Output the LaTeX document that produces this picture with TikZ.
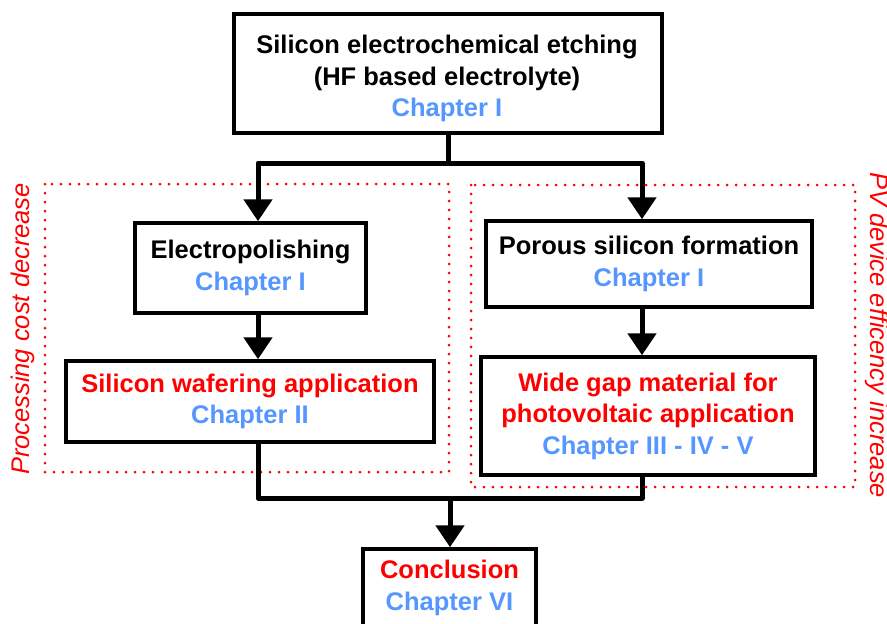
\documentclass[tikz,border=0pt]{standalone}
\usepackage{fontspec}
\setmainfont{Liberation Sans}
\usetikzlibrary{arrows.meta}
\definecolor{chblue}{RGB}{85,150,255}
\definecolor{redx}{RGB}{255,0,0}
\begin{document}
\begin{tikzpicture}[x=1pt,y=-1pt,
  box/.style={draw=black,line width=3.5pt,fill=white,align=center,inner sep=0pt,
    font=\fontsize{25.5}{31.5}\selectfont\bfseries},
  boxtext/.style={align=center,inner sep=0pt,font=\fontsize{25.5}{31.5}\selectfont\bfseries},
  conn/.style={line width=5pt,line join=round},
  tip/.style={-{Triangle[width=28pt,length=22pt]}},
  zone/.style={draw=redx,line width=3pt,dash pattern=on 0pt off 9pt,line cap=round},
  side/.style={text=redx,font=\fontsize{25.5}{31.5}\selectfont\itshape,inner sep=0pt}]
\useasboundingbox (0,0) rectangle (887,624);
\clip (0,0) rectangle (887,624);
% dotted zones
\draw[zone] (45,184) rectangle (449,472);
\draw[zone] (471,185) rectangle (855,487);
% boxes
\node[box,minimum width=428pt,minimum height=119pt] (top) at (448,73.5) {};
\node[boxtext] (toptext) at (447,78.5)
  {Silicon electrochemical etching\\(HF based electrolyte)\\\textcolor{chblue}{Chapter I}};
\node[box,minimum width=231pt,minimum height=90pt] (elec) at (250.5,268)
  {Electropolishing\\\textcolor{chblue}{Chapter I}};
\node[box,minimum width=368pt,minimum height=81pt] (wafer) at (250,401.5)
  {\textcolor{redx}{Silicon wafering application}\\\textcolor{chblue}{Chapter II}};
\node[box,minimum width=326pt,minimum height=86pt] (poro) at (649,264)
  {Porous silicon formation\\\textcolor{chblue}{Chapter I}};
\node[box,minimum width=334pt,minimum height=118pt] (wide) at (648,416)
  {\textcolor{redx}{Wide gap material for}\\\textcolor{redx}{photovoltaic application}\\\textcolor{chblue}{Chapter III - IV - V}};
\node[box,minimum width=173pt,minimum height=78pt] (concl) at (449.5,588)
  {\textcolor{redx}{Conclusion}\\\textcolor{chblue}{Chapter VI}};
% side labels
\node[side,rotate=90] (lside) at (23,329) {Processing cost decrease};
\node[side,rotate=-90] (rside) at (877,335) {PV device efficency increase};
% connectors
\coordinate (jl) at (258,163);
\coordinate (jr) at (642,163);
\coordinate (bl) at (258,498);
\coordinate (br) at (642,498);
\coordinate (bm) at (450,498);
\draw[conn,tip] (top.south) |- (jl) -- (jl |- elec.north);
\draw[conn,tip] (top.south) |- (jr) -- (jr |- poro.north);
\draw[conn,tip] (jl |- elec.south) -- (jl |- wafer.north);
\draw[conn,tip] (jr |- poro.south) -- (jr |- wide.north);
\draw[conn] (bl |- wafer.south) -- (bl) -- (br) -- (br |- wide.south);
\draw[conn,tip] (bm) -- (bm |- concl.north);
\end{tikzpicture}
\end{document}
